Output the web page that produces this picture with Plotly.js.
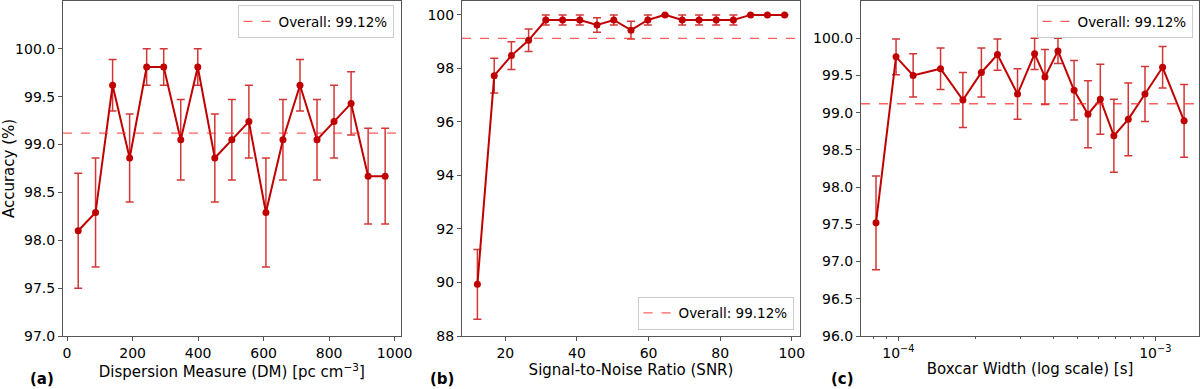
<!DOCTYPE html>
<html>
<head>
<meta charset="utf-8">
<script src="https://cdn.plot.ly/plotly-3.0.1.min.js"></script>
<style>html,body{margin:0;padding:0;background:#fff;}#chart{width:1200px;height:389px;}</style>
</head>
<body>
<div id="chart"></div>
<script>
// ---- data ----
const overall = 99.12;
const overallLabel = "Overall: 99.12%";

const dmValues = [34, 87, 139, 191, 243, 295, 347, 399, 451, 503, 555, 607, 659, 711, 763, 815, 867, 919, 971];
const dmAccuracy = [98.10, 98.29, 99.62, 98.86, 99.81, 99.81, 99.05, 99.81, 98.86, 99.05, 99.24, 98.29, 99.05, 99.62, 99.05, 99.24, 99.43, 98.67, 98.67];
const dmError = [0.60, 0.57, 0.27, 0.46, 0.19, 0.19, 0.42, 0.19, 0.46, 0.42, 0.38, 0.57, 0.42, 0.27, 0.42, 0.38, 0.33, 0.50, 0.50];

const snrValues = [12.2, 16.9, 21.7, 26.5, 31.3, 36.0, 40.8, 45.6, 50.3, 55.1, 59.8, 64.6, 69.4, 74.1, 78.9, 83.7, 88.5, 93.2, 98.0];
const snrAccuracy = [89.93, 97.73, 98.48, 99.05, 99.81, 99.81, 99.81, 99.62, 99.81, 99.43, 99.81, 100.0, 99.81, 99.81, 99.81, 99.81, 100.0, 100.0, 100.0];
const snrError = [1.30, 0.65, 0.52, 0.42, 0.19, 0.19, 0.19, 0.27, 0.19, 0.33, 0.19, 0.0, 0.19, 0.19, 0.19, 0.19, 0.0, 0.0, 0.0];

const boxcarWidth = [8.18e-5, 9.79e-5, 1.141e-4, 1.459e-4, 1.782e-4, 2.104e-4, 2.43e-4, 2.909e-4, 3.39e-4, 3.72e-4, 4.18e-4, 4.83e-4, 5.47e-4, 6.11e-4, 6.90e-4, 7.85e-4, 9.12e-4, 1.068e-3, 1.295e-3];
const boxcarAccuracy = [97.52, 99.75, 99.50, 99.59, 99.17, 99.54, 99.78, 99.25, 99.79, 99.48, 99.83, 99.30, 98.98, 99.18, 98.69, 98.91, 99.25, 99.61, 98.89];
const boxcarError = [0.63, 0.24, 0.29, 0.28, 0.37, 0.33, 0.21, 0.34, 0.21, 0.37, 0.17, 0.40, 0.45, 0.47, 0.49, 0.49, 0.37, 0.28, 0.49];

const panelLabels = ["(a)", "(b)", "(c)"];
const xTitles = ["Dispersion Measure (DM) [pc cm<sup>−3</sup>]", "Signal-to-Noise Ratio (SNR)", "Boxcar Width (log scale) [s]"];
const yTitle = "Accuracy (%)";
const logTickVals = [1e-4, 1e-3];
const logTickText = ["10<sup>−4</sup>", "10<sup>−3</sup>"];
const logMinorVals = [7e-5, 8e-5, 9e-5, 2e-4, 3e-4, 4e-4, 5e-4, 6e-4, 7e-4, 8e-4, 9e-4];

// ---- style ----
const lineColor = '#c00000';
const errColor = 'rgba(200,10,10,0.82)';
const refColor = 'rgba(255,40,40,0.75)';
const axisColor = '#555';
const FONT = 'DejaVu Sans, sans-serif';

function series(x, y, e, xa, ya) {
  return {
    type: 'scatter', mode: 'lines+markers', x: x, y: y,
    xaxis: xa, yaxis: ya, showlegend: false,
    line: {color: lineColor, width: 2},
    marker: {color: lineColor, size: 7},
    error_y: {type: 'data', array: e, visible: true, color: errColor, thickness: 1.5, width: 4}
  };
}

const traces = [
  series(dmValues, dmAccuracy, dmError, 'x', 'y'),
  series(snrValues, snrAccuracy, snrError, 'x2', 'y2'),
  series(boxcarWidth, boxcarAccuracy, boxcarError, 'x3', 'y3')
];

function baseAxis(extra) {
  return Object.assign({
    showline: true, mirror: true, linecolor: axisColor, linewidth: 1,
    ticks: 'outside', ticklen: 4, tickwidth: 1, tickcolor: axisColor,
    showgrid: false, zeroline: false,
    tickfont: {family: FONT, size: 14, color: '#000'}
  }, extra);
}
function xTitle(t) { return {text: t, font: {family: FONT, size: 15, color: '#000'}, standoff: 3}; }

const H = 335; // plot-area height in px (paper)
function py(px) { return 1 - (px - 1) / H; }

const refShape = (xref, yref, legend) => ({
  type: 'line', xref: xref, yref: yref, x0: 0, x1: 1, y0: overall, y1: overall,
  line: {color: refColor, width: 1.3, dash: 'dash'},
  showlegend: true, name: overallLabel, legend: legend, layer: 'above'
});

const legendStyle = (x, y, yanchor) => ({
  x: x, y: y, xref: 'paper', yref: 'paper', xanchor: 'right', yanchor: yanchor,
  bgcolor: 'rgba(255,255,255,0.85)', bordercolor: '#cccccc', borderwidth: 1,
  font: {family: FONT, size: 13.5, color: '#000'}, tracegroupgap: 0
});

const labelAnn = (text, xpx) => ({
  text: '<b>' + text + '</b>', x: xpx/1200, y: py(379), xref: 'paper', yref: 'paper',
  xanchor: 'center', yanchor: 'middle', showarrow: false, borderpad: 0,
  font: {family: FONT, size: 15, color: '#000'}
});

const layout = {
  width: 1200, height: 389,
  margin: {l: 0, r: 0, t: 1, b: 53},
  paper_bgcolor: '#fff', plot_bgcolor: '#fff',
  font: {family: FONT, color: '#000'},
  xaxis: baseAxis({domain: [63/1200, 400.5/1200], anchor: 'y', range: [-12.4, 1017.8], tickvals: [0, 200, 400, 600, 800, 1000], title: xTitle(xTitles[0])}),
  yaxis: baseAxis({domain: [0, 1], anchor: 'x', range: [97.0, 100.5], tickvals: [97, 97.5, 98, 98.5, 99, 99.5, 100], tickformat: '.1f',
    title: {text: yTitle, font: {family: FONT, size: 15, color: '#000'}, standoff: 6}}),
  xaxis2: baseAxis({domain: [462/1200, 800/1200], anchor: 'y2', range: [7.9, 102.3], tickvals: [20, 40, 60, 80, 100], title: xTitle(xTitles[1])}),
  yaxis2: baseAxis({domain: [0, 1], anchor: 'x2', range: [88, 100.52], tickvals: [88, 90, 92, 94, 96, 98, 100]}),
  xaxis3: baseAxis({domain: [861/1200, 1199/1200], anchor: 'y3', type: 'log', range: [Math.log10(7.15e-5), Math.log10(1.48e-3)],
    tickmode: 'array', tickvals: logTickVals, ticktext: logTickText,
    minor: {tickmode: 'array', tickvals: logMinorVals, ticks: 'outside', ticklen: 2, tickcolor: axisColor, showgrid: false},
    title: xTitle(xTitles[2])}),
  yaxis3: baseAxis({domain: [0, 1], anchor: 'x3', range: [96.0, 100.5], tickvals: [96, 96.5, 97, 97.5, 98, 98.5, 99, 99.5, 100], tickformat: '.1f'}),
  shapes: [
    refShape('x domain', 'y', 'legend'),
    refShape('x2 domain', 'y2', 'legend2'),
    refShape('x3 domain', 'y3', 'legend3')
  ],
  legend: legendStyle(393.5/1200, py(5), 'top'),
  legend2: legendStyle(793.5/1200, py(329.5), 'bottom'),
  legend3: legendStyle(1192.5/1200, py(5), 'top'),
  annotations: [labelAnn(panelLabels[0], 42), labelAnn(panelLabels[1], 442), labelAnn(panelLabels[2], 842)]
};

Plotly.newPlot('chart', traces, layout, {displayModeBar: false, staticPlot: true});
</script>
</body>
</html>
